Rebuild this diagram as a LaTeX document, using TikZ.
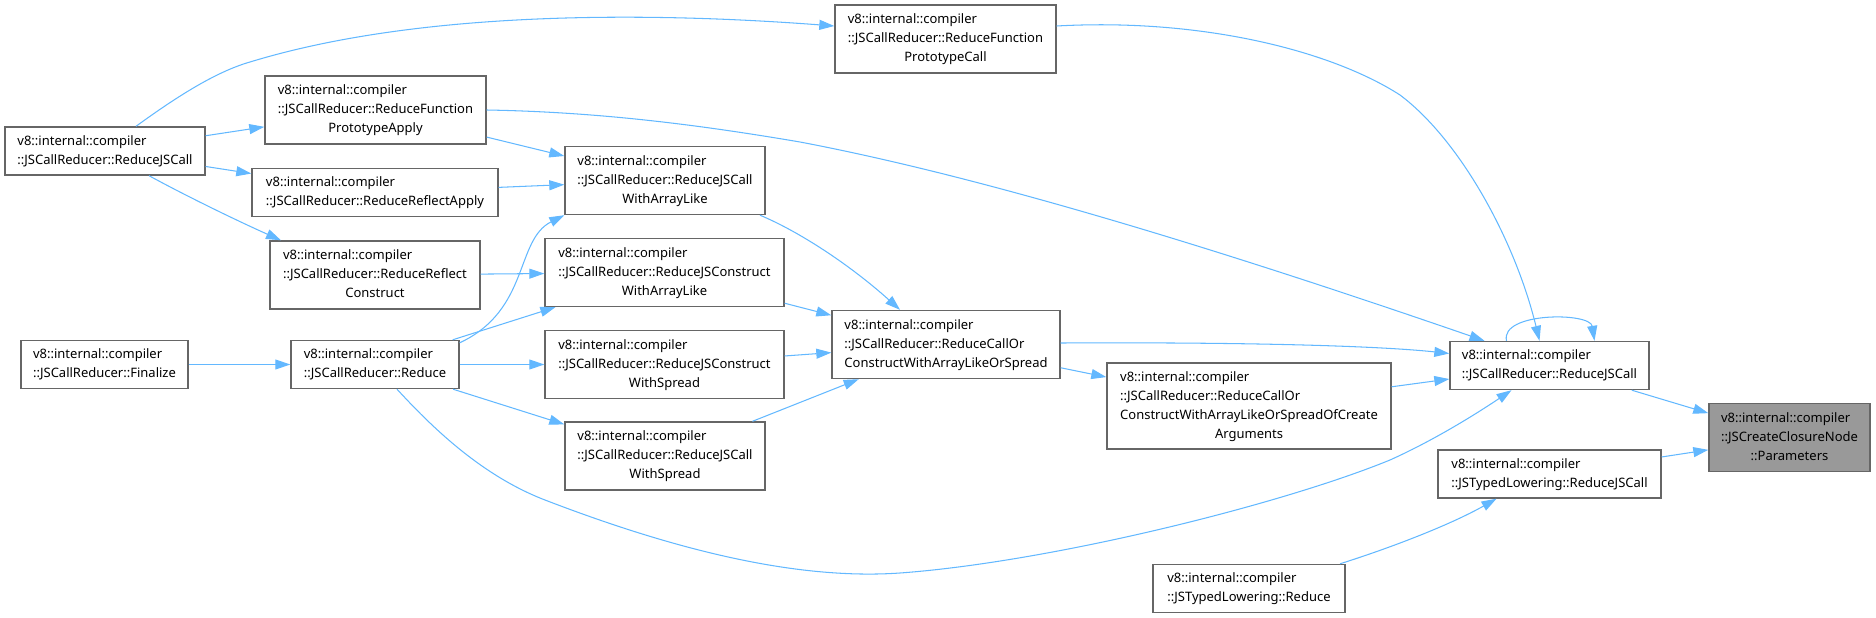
\documentclass[tikz,border=0pt]{standalone}
\usepackage{fontspec}
\setmainfont{Noto Sans}
\usetikzlibrary{arrows.meta}
\definecolor{callblue}{HTML}{63B8FF}
\definecolor{boxgray}{HTML}{666666}
\definecolor{hitgray}{HTML}{999999}
\newcommand{\twolines}[2]{\begin{tabular}{@{}l@{}}#1\\#2\end{tabular}}
\newcommand{\threelines}[3]{\begin{tabular}{@{}l@{}}#1\\#2\\\multicolumn{1}{@{}c@{}}{#3}\end{tabular}}
\newcommand{\fourlines}[4]{\begin{tabular}{@{}l@{}}#1\\#2\\#3\\\multicolumn{1}{@{}c@{}}{#4}\end{tabular}}
\tikzset{
  fn/.style={draw=boxgray, line width=1.4pt, fill=white, inner sep=0pt, minimum height=48pt, font=\fontsize{13}{19}\selectfont},
  fn3/.style={fn, minimum height=68pt},
  calls/.style={draw=callblue, line width=1.05pt, -{Triangle[length=15pt,width=10pt]}}
}
\begin{document}
\begin{tikzpicture}[x=1pt, y=-1pt]
\useasboundingbox (0,0) rectangle (1876,618);
\node[fn, minimum width=200pt] (rjl) at (105,151) {\twolines{v8::internal::compiler}{::JSCallReducer::ReduceJSCall}};
\node[fn3, minimum width=221pt] (fpa) at (375.5,110) {\threelines{v8::internal::compiler}{::JSCallReducer::ReduceFunction}{PrototypeApply}};
\node[fn3, minimum width=221pt] (fpc) at (945.5,39) {\threelines{v8::internal::compiler}{::JSCallReducer::ReduceFunction}{PrototypeCall}};
\node[fn, minimum width=246pt] (rfa) at (375,192.5) {\twolines{v8::internal::compiler}{::JSCallReducer::ReduceReflectApply}};
\node[fn3, minimum width=210pt] (rfc) at (375,275) {\threelines{v8::internal::compiler}{::JSCallReducer::ReduceReflect}{Construct}};
\node[fn3, minimum width=200pt] (cwal) at (665,180.5) {\threelines{v8::internal::compiler}{::JSCallReducer::ReduceJSCall}{WithArrayLike}};
\node[fn3, minimum width=239pt] (kwal) at (664.5,272.5) {\threelines{v8::internal::compiler}{::JSCallReducer::ReduceJSConstruct}{WithArrayLike}};
\node[fn3, minimum width=239pt] (kws) at (664.5,364.5) {\threelines{v8::internal::compiler}{::JSCallReducer::ReduceJSConstruct}{WithSpread}};
\node[fn3, minimum width=200pt] (cws) at (665,456) {\threelines{v8::internal::compiler}{::JSCallReducer::ReduceJSCall}{WithSpread}};
\node[fn, minimum width=167pt] (fin) at (104.5,364.5) {\twolines{v8::internal::compiler}{::JSCallReducer::Finalize}};
\node[fn, minimum width=168pt] (red) at (375,364.5) {\twolines{v8::internal::compiler}{::JSCallReducer::Reduce}};
\node[fn3, minimum width=228pt] (rco) at (946,344.5) {\threelines{v8::internal::compiler}{::JSCallReducer::ReduceCallOr}{ConstructWithArrayLikeOrSpread}};
\node[fn, minimum width=284pt, minimum height=86pt] (rcoa) at (1249,406) {\fourlines{v8::internal::compiler}{::JSCallReducer::ReduceCallOr}{ConstructWithArrayLikeOrSpreadOfCreate}{Arguments}};
\node[fn, minimum width=199pt] (rjr) at (1549.5,365.5) {\twolines{v8::internal::compiler}{::JSCallReducer::ReduceJSCall}};
\node[fn3, minimum width=161pt, fill=hitgray] (par) at (1789.5,437.5) {\threelines{v8::internal::compiler}{::JSCreateClosureNode}{::Parameters}};
\node[fn, minimum width=223pt] (tlc) at (1549.5,474) {\twolines{v8::internal::compiler}{::JSTypedLowering::ReduceJSCall}};
\node[fn, minimum width=192pt] (tlr) at (1249,588.5) {\twolines{v8::internal::compiler}{::JSTypedLowering::Reduce}};
\draw[calls] ([xshift=31pt]rjl.north) .. controls (175,98) and (215,72) .. (250,62) .. controls (420,10) and (650,12) .. ([yshift=13pt]fpc.west);
\draw[calls] (rjl) -- (fpa);
\draw[calls] (rjl) -- (rfa);
\draw[calls] ([xshift=44pt]rjl.south) .. controls (190,198) and (240,222) .. ([xshift=-94pt]rfc.north);
\draw[calls] (fpa) -- (cwal);
\draw[calls] (rfa) -- (cwal);
\draw[calls] (rfc) -- (kwal);
\draw[calls] ([yshift=-3pt]red.north east) .. controls (530,310) and (515,240) .. (cwal.south west);
\draw[calls] (red) -- (kwal);
\draw[calls] (red) -- (kws);
\draw[calls] (red) -- (cws);
\draw[calls] (fin) -- (red);
\draw[calls] ([xshift=22pt]red.south) .. controls (430,425) and (480,475) .. (545,500) .. controls (680,552) and (800,580) .. (900,573) .. controls (1050,562) and (1280,505) .. (1390,460) .. controls (1430,442) and (1470,418) .. ([xshift=-38pt]rjr.south);
\draw[calls] ([xshift=95pt]cwal.south) .. controls (800,232) and (850,265) .. ([xshift=-46pt]rco.north);
\draw[calls] (kwal) -- (rco);
\draw[calls] (kws) -- (rco);
\draw[calls] (cws) -- (rco);
\draw[calls] (rco) -- (rcoa);
\draw[calls] ([yshift=1.5pt]rco.east) .. controls (1250,342) and (1380,346) .. ([yshift=12pt]rjr.west);
\draw[calls] (rcoa) -- (rjr);
\draw[calls] (fpa.east) .. controls (600,112) and (700,125) .. (800,142) .. controls (1000,180) and (1250,260) .. ([xshift=-65pt]rjr.north);
\draw[calls] ([yshift=13pt]fpc.east) .. controls (1200,18) and (1330,50) .. (1400,95) .. controls (1460,140) and (1515,240) .. ([xshift=-10pt]rjr.north);
\draw[calls] ([xshift=-43pt]rjr.north) .. controls (1500,312) and (1590,312) .. ([xshift=45pt]rjr.north);
\draw[calls] (rjr) -- (par);
\draw[calls] (tlc) -- (par);
\draw[calls] ([xshift=91pt]tlr.north) .. controls (1390,548) and (1450,525) .. ([xshift=-53pt]tlc.south);
\end{tikzpicture}
\end{document}
